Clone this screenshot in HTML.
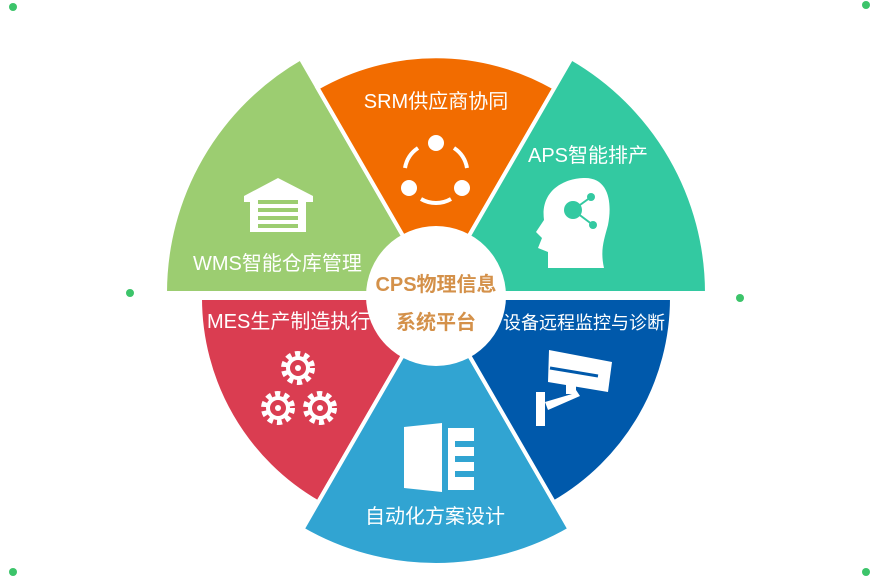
<!DOCTYPE html>
<html><head><meta charset="utf-8"><style>
body{margin:0;background:#fff;}
svg{display:block;font-family:"Liberation Sans","Noto Sans CJK SC",sans-serif;}
</style></head><body>
<svg width="872" height="577" viewBox="0 0 872 577">
<g fill="#3cc46a">
<circle cx="13" cy="7" r="4"/><circle cx="866" cy="5" r="4"/><circle cx="130" cy="293" r="4"/><circle cx="740" cy="298" r="4"/><circle cx="13" cy="572" r="4"/><circle cx="866" cy="572" r="4"/>
</g>
<g stroke="#fff" stroke-width="4" stroke-linejoin="miter">
<path d="M436 293 L165 293 A271 271 0 0 1 300.5 58.3 Z" fill="#9ccd71"/>
<path d="M436 293 L317.5 87.8 A238 238 0 0 1 554.5 87.8 Z" fill="#f26c00"/>
<path d="M436 293 L571.5 58.3 A271 271 0 0 1 707 293 Z" fill="#33c9a1"/>
<path d="M436 298 L200 298 A236 236 0 0 0 318 502.4 Z" fill="#da3d51"/>
<path d="M436 298 L302.5 529.2 A267 267 0 0 0 569.5 529.2 Z" fill="#31a4d2"/>
<path d="M436 298 L554 502.4 A236 236 0 0 0 672 298 Z" fill="#0059ab"/>
</g>
<circle cx="436" cy="296" r="70" fill="#fff"/>
<g fill="#d4914a" font-weight="bold" font-size="20" text-anchor="middle">
<text x="436" y="291">CPS物理信息</text>
<text x="436" y="329">系统平台</text>
</g>
<g fill="#fff" font-size="20">
<text x="436" y="108" text-anchor="middle">SRM供应商协同</text>
<text x="528" y="162">APS智能排产</text>
<text x="193" y="270">WMS智能仓库管理</text>
<text x="207" y="328">MES生产制造执行</text>
<text x="503" y="329" font-size="18">设备远程监控与诊断</text>
<text x="365" y="523">自动化方案设计</text>
</g>
<!-- SRM icon -->
<g fill="#fff">
<circle cx="436" cy="143" r="8"/><circle cx="409" cy="188" r="8"/><circle cx="462" cy="188" r="8"/>
</g>
<g fill="none" stroke="#fff" stroke-width="4">
<path d="M418 148 A30 30 0 0 0 405 168"/><path d="M454 148 A30 30 0 0 1 467 168"/><path d="M421 199 A30 30 0 0 0 451 199"/>
</g>
<!-- warehouse icon -->
<g fill="#fff">
<path d="M244 196 L278 178 L313 196 L313 202 L306 202 L306 232 L250 232 L250 202 L244 202 Z"/>
</g>
<g fill="#9ccd71"><rect x="258" y="200" width="40" height="4"/><rect x="258" y="208" width="40" height="4"/><rect x="258" y="216" width="40" height="4"/><rect x="258" y="224" width="40" height="4"/></g>
<!-- head icon -->
<path d="M548 268 L548 252 L538 248 L542 238 L536 232 L544 220 C540 190 565 178 585 178 C610 178 612 205 608 225 C604 240 600 250 604 268 Z" fill="#fff"/>
<g fill="#33c9a1"><circle cx="573" cy="210" r="9"/><circle cx="591" cy="197" r="4"/><circle cx="593" cy="225" r="4"/></g>
<path d="M573 210 L591 197 M573 210 L593 225" stroke="#33c9a1" stroke-width="2"/>
<!-- gears icon -->
<g fill="none" stroke="#fff" stroke-width="6" stroke-dasharray="5 4">
<circle cx="298" cy="368" r="14"/><circle cx="278" cy="408" r="14"/><circle cx="320" cy="408" r="14"/>
</g>
<g fill="none" stroke="#fff" stroke-width="4">
<circle cx="298" cy="368" r="10"/><circle cx="278" cy="408" r="10"/><circle cx="320" cy="408" r="10"/>
</g>
<g fill="#fff"><circle cx="298" cy="368" r="3"/><circle cx="278" cy="408" r="3"/><circle cx="320" cy="408" r="3"/></g>
<!-- document icon -->
<path d="M404 427 L442 423 L442 492 L404 488 Z" fill="#fff"/>
<rect x="448" y="428" width="26" height="62" fill="#fff"/>
<g fill="#31a4d2"><rect x="455" y="441" width="19" height="6"/><rect x="455" y="456" width="19" height="6"/><rect x="455" y="471" width="19" height="6"/></g>
<!-- camera icon -->
<g fill="#fff">
<path d="M549 350 L612 362 L608 392 L548 382 Z"/>
<rect x="536" y="392" width="9" height="34"/>
<path d="M545 402 L572 394 L576 390 L580 396 L548 410 Z"/>
<rect x="566" y="384" width="10" height="10"/>
</g>
<path d="M550 368 L598 376" stroke="#0059ab" stroke-width="3"/>
</svg>
</body></html>
